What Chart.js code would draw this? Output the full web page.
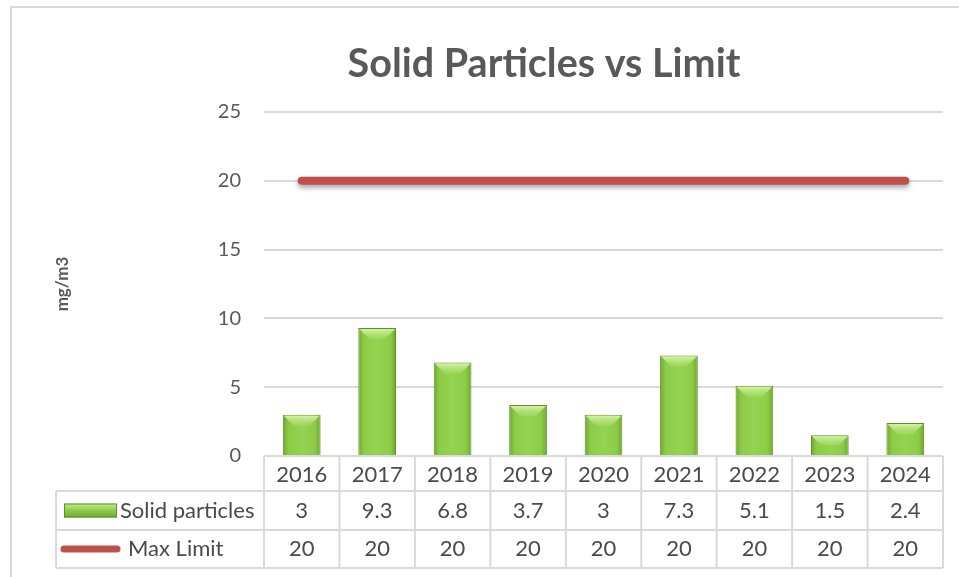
<!DOCTYPE html>
<html>
<head>
<meta charset="utf-8">
<script src="https://cdn.jsdelivr.net/npm/chart.js@4.4.1/dist/chart.umd.min.js"></script>
<style>
  html, body { margin: 0; padding: 0; background: #fff; }
  #wrap { width: 959px; height: 577px; position: relative; }
</style>
</head>
<body>
<div id="wrap"><canvas id="particlesChart"></canvas></div>
<script>
// Chart data
const years = ['2016', '2017', '2018', '2019', '2020', '2021', '2022', '2023', '2024'];
const solidParticles = [3, 9.3, 6.8, 3.7, 3, 7.3, 5.1, 1.5, 2.4];
const maxLimit = [20, 20, 20, 20, 20, 20, 20, 20, 20];
const yTicks = [0, 5, 10, 15, 20, 25];

const FONT = 'Lato';
const TEXT = '#595959';
const GRID = '#d9d9d9';

// bar fill: darker at the sides, lighter in the middle
function barFill(context) {
    const chart = context.chart;
    if (!chart.chartArea) return '#8cc63f';
    const xs = chart.scales.x;
    const cx = xs.getPixelForValue(context.dataIndex);
    const half = xs.width / years.length * 0.25;
    const g = chart.ctx.createLinearGradient(cx - half, 0, cx + half, 0);
    g.addColorStop(0, '#6fa632');
    g.addColorStop(0.15, '#8ccc45');
    g.addColorStop(0.5, '#94d352');
    g.addColorStop(0.85, '#8ccc45');
    g.addColorStop(1, '#6fa632');
    return g;
}

// light bevel on top of each bar
const bevelPlugin = {
    id: 'bevel',
    afterDatasetDraw(chart, args) {
        if (args.index !== 0) return;
        const ctx = chart.ctx;
        args.meta.data.forEach(bar => {
            const w = bar.width, left = bar.x - w / 2, top = bar.y;
            const d = Math.min(11, (bar.base - top) / 2);
            const g = ctx.createLinearGradient(0, top, 0, top + d);
            g.addColorStop(0, 'rgba(225,248,185,0.95)');
            g.addColorStop(1, 'rgba(175,225,115,0.35)');
            ctx.save();
            ctx.fillStyle = g;
            ctx.beginPath();
            ctx.moveTo(left + 1, top + 1);
            ctx.lineTo(left + w - 1, top + 1);
            ctx.lineTo(left + w - d, top + d);
            ctx.lineTo(left + d, top + d);
            ctx.closePath();
            ctx.fill();
            ctx.restore();
        });
    }
};

// soft shadow under the limit line
const shadowPlugin = {
    id: 'lineShadow',
    beforeDatasetDraw(chart, args) {
        if (args.index !== 1) return;
        const ctx = chart.ctx;
        ctx.save();
        ctx.shadowColor = 'rgba(0,0,0,0.35)';
        ctx.shadowBlur = 5;
        ctx.shadowOffsetY = 3;
    },
    afterDatasetDraw(chart, args) {
        if (args.index !== 1) return;
        chart.ctx.restore();
    }
};

// outer frame + data table under the plot
const tablePlugin = {
    id: 'dataTable',
    beforeDraw(chart) {
        const ctx = chart.ctx;
        ctx.save();
        ctx.fillStyle = '#fff';
        ctx.fillRect(0, 0, chart.width, chart.height);
        ctx.strokeStyle = GRID;
        ctx.lineWidth = 2;
        ctx.beginPath();
        ctx.moveTo(10, 7);
        ctx.lineTo(chart.width, 7);
        ctx.moveTo(11, 6);
        ctx.lineTo(11, chart.height);
        ctx.stroke();
        ctx.restore();
    },
    afterDraw(chart) {
        const ctx = chart.ctx;
        const xs = chart.scales.x;
        const step = xs.width / years.length;
        const top = chart.chartArea.bottom;
        const rowY = [top, top + 35, top + 74, top + 112];
        const tableLeft = 56;
        const bounds = years.map((y, i) => xs.getPixelForValue(i) - step / 2);
        bounds.push(xs.getPixelForValue(years.length - 1) + step / 2);
        const right = bounds[bounds.length - 1];

        ctx.save();
        ctx.strokeStyle = GRID;
        ctx.lineWidth = 2;
        ctx.beginPath();
        ctx.moveTo(bounds[0], rowY[0]); ctx.lineTo(right, rowY[0]);
        for (let r = 1; r < rowY.length; r++) {
            ctx.moveTo(tableLeft, rowY[r]); ctx.lineTo(right, rowY[r]);
        }
        ctx.moveTo(tableLeft, rowY[1]); ctx.lineTo(tableLeft, rowY[3]);
        bounds.forEach(bx => { ctx.moveTo(bx, rowY[0]); ctx.lineTo(bx, rowY[3]); });
        ctx.stroke();

        ctx.fillStyle = '#4a4a4a';
        ctx.font = '22px ' + FONT;
        ctx.textAlign = 'center';
        ctx.textBaseline = 'middle';
        const mid = r => (rowY[r] + rowY[r + 1]) / 2;
        years.forEach((y, i) => {
            const cx = xs.getPixelForValue(i);
            ctx.fillText(y, cx, mid(0) + 1);
            ctx.fillText(String(solidParticles[i]), cx, mid(1));
            ctx.fillText(String(maxLimit[i]), cx, mid(2));
        });

        // legend keys inside the table
        const g = ctx.createLinearGradient(0, mid(1) - 7, 0, mid(1) + 7);
        g.addColorStop(0, '#c8ee98');
        g.addColorStop(0.5, '#8ccc45');
        g.addColorStop(1, '#6fa632');
        ctx.fillStyle = g;
        ctx.fillRect(64, mid(1) - 7, 53, 14);
        ctx.strokeStyle = '#5f8f2a';
        ctx.lineWidth = 1;
        ctx.strokeRect(64.5, mid(1) - 6.5, 52, 13);

        ctx.strokeStyle = '#c0504d';
        ctx.lineWidth = 7;
        ctx.lineCap = 'round';
        ctx.beginPath();
        ctx.moveTo(64, mid(2));
        ctx.lineTo(117, mid(2));
        ctx.stroke();

        ctx.fillStyle = '#4a4a4a';
        ctx.textAlign = 'left';
        ctx.fillText('Solid particles', 120, mid(1));
        ctx.fillText('Max Limit', 128, mid(2));
        ctx.restore();
    }
};

function initChart() {
    const ctx = document.getElementById('particlesChart').getContext('2d');

    new Chart(ctx, {
        data: {
            labels: years,
            datasets: [{
                type: 'bar',
                label: 'Solid particles',
                data: solidParticles,
                backgroundColor: barFill,
                borderColor: '#5f8f2a',
                borderWidth: 1,
                barPercentage: 0.5,
                categoryPercentage: 1,
                order: 2
            }, {
                type: 'line',
                label: 'Max Limit',
                data: maxLimit,
                borderColor: '#c0504d',
                borderWidth: 8,
                borderCapStyle: 'round',
                pointRadius: 0,
                order: 1
            }]
        },
        options: {
            responsive: true,
            maintainAspectRatio: false,
            animation: false,
            layout: { padding: { left: 145, right: 16, top: 0, bottom: 0 } },
            scales: {
                x: {
                    ticks: { display: false },
                    grid: { display: false },
                    border: { display: false },
                    afterFit: s => { s.height = 121; }
                },
                y: {
                    min: yTicks[0],
                    max: yTicks[yTicks.length - 1],
                    afterBuildTicks: s => { s.ticks = yTicks.map(v => ({ value: v })); },
                    ticks: { color: TEXT, padding: 23, font: { family: FONT, size: 20 } },
                    grid: { color: GRID, lineWidth: 2, drawTicks: false },
                    border: { display: false },
                    title: {
                        display: true,
                        text: 'mg/m3',
                        color: TEXT,
                        font: { family: FONT, size: 17, weight: 'bold' },
                        padding: { top: -93, bottom: 0 }
                    },
                    afterFit: s => { s.width = 119; }
                }
            },
            plugins: {
                legend: { display: false },
                tooltip: { enabled: false },
                title: {
                    display: true,
                    text: 'Solid Particles vs Limit',
                    color: TEXT,
                    font: { family: FONT, size: 39.5, weight: 'bold' },
                    padding: { top: 40.3, bottom: 24.3 }
                }
            }
        },
        plugins: [tablePlugin, bevelPlugin, shadowPlugin]
    });
}

document.addEventListener('DOMContentLoaded', initChart);
</script>
</body>
</html>
